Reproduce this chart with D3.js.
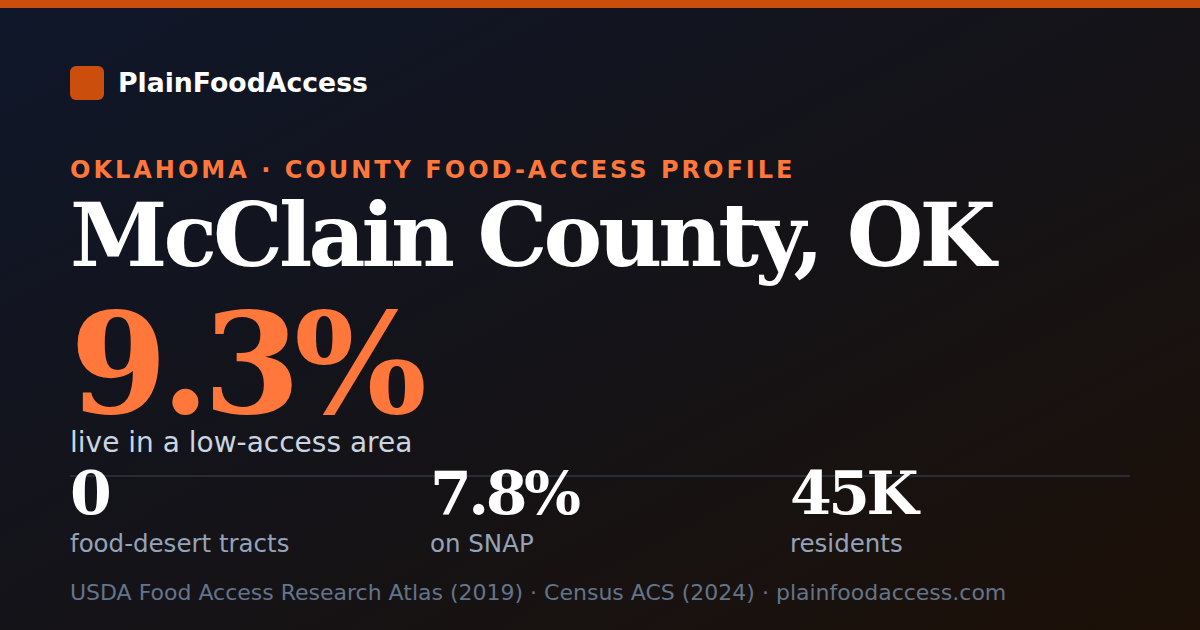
<!DOCTYPE html>
<html>
<head>
<meta charset="utf-8">
<script src="https://cdn.jsdelivr.net/npm/d3@7"></script>
<style>
  html, body { margin: 0; padding: 0; background: #111; }
  svg { display: block; }
</style>
</head>
<body>
<div id="wrapper"></div>
<script>
// 1. Data
const brand = "PlainFoodAccess"
const kicker = "OKLAHOMA · COUNTY FOOD-ACCESS PROFILE"
const county = "McClain County, OK"
const headlineValue = "9.3%"
const headlineLabel = "live in a low-access area"
const statValues = ["0", "7.8%", "45K"]
const statLabels = ["food-desert tracts", "on SNAP", "residents"]
const sources = ["USDA Food Access Research Atlas (2019)", "Census ACS (2024)", "plainfoodaccess.com"]

// 2. Dimensions
const dimensions = {
  width: 1200,
  height: 630,
  margin: { top: 0, right: 70, bottom: 0, left: 70 },
}

const sans = "'DejaVu Sans', Verdana, sans-serif"
const serif = "'DejaVu Serif', Georgia, serif"
const orange = "#ff773a"

// 3. Canvas
const wrapper = d3.select("#wrapper")
  .append("svg")
  .attr("width", dimensions.width)
  .attr("height", dimensions.height)

const defs = wrapper.append("defs")
const grad = defs.append("linearGradient")
  .attr("id", "bg")
  .attr("x1", "0%").attr("y1", "0%")
  .attr("x2", "100%").attr("y2", "100%")
grad.append("stop").attr("offset", "0%").attr("stop-color", "#0f172a")
grad.append("stop").attr("offset", "50%").attr("stop-color", "#141318")
grad.append("stop").attr("offset", "100%").attr("stop-color", "#1c1007")

wrapper.append("rect")
  .attr("width", dimensions.width)
  .attr("height", dimensions.height)
  .attr("fill", "url(#bg)")

wrapper.append("rect")
  .attr("width", dimensions.width)
  .attr("height", 8)
  .attr("fill", "#cc4e0c")

const bounds = wrapper.append("g")

// brand
bounds.append("rect")
  .attr("x", 70).attr("y", 66)
  .attr("width", 34).attr("height", 34)
  .attr("rx", 6)
  .attr("fill", "#cc4e0c")
bounds.append("text")
  .attr("x", 118).attr("y", 92)
  .attr("font-family", sans)
  .attr("font-weight", "bold")
  .attr("font-size", 26.7)
  .attr("fill", "#ffffff")
  .text(brand)

// kicker + title
bounds.append("text")
  .attr("x", 70).attr("y", 178)
  .attr("font-family", sans)
  .attr("font-weight", "bold")
  .attr("font-size", 24)
  .attr("letter-spacing", 3.0)
  .attr("fill", orange)
  .text(kicker)

bounds.append("text")
  .attr("x", 70).attr("y", 266)
  .attr("font-family", serif)
  .attr("font-weight", "bold")
  .attr("font-size", 88)
  .attr("letter-spacing", -4)
  .attr("fill", "#ffffff")
  .text(county)

// headline number
bounds.append("text")
  .attr("x", 70).attr("y", 413)
  .attr("font-family", serif)
  .attr("font-weight", "bold")
  .attr("font-size", 140)
  .attr("letter-spacing", -6.5)
  .attr("fill", orange)
  .text(headlineValue)

bounds.append("text")
  .attr("x", 70).attr("y", 452)
  .attr("font-family", sans)
  .attr("font-size", 28)
  .attr("fill", "#cbd5e1")
  .text(headlineLabel)

// divider
bounds.append("line")
  .attr("x1", 70).attr("x2", 1130)
  .attr("y1", 476).attr("y2", 476)
  .attr("stroke", "#272c37")
  .attr("stroke-width", 2)

// 4. Scales
const xScale = d3.scaleLinear()
  .domain([0, statValues.length])
  .range([dimensions.margin.left, dimensions.width - dimensions.margin.right + 20])

// 5. Stats
const stats = bounds.selectAll(".stat")
  .data(statValues.map((v, i) => ({ value: v, label: statLabels[i], i })))
  .join("g")
  .attr("class", "stat")
  .attr("transform", d => `translate(${xScale(d.i)}, 0)`)

stats.append("text")
  .attr("y", 514)
  .attr("font-family", serif)
  .attr("font-weight", "bold")
  .attr("font-size", 60)
  .attr("letter-spacing", -3.5)
  .attr("fill", "#ffffff")
  .text(d => d.value)

stats.append("text")
  .attr("y", 552)
  .attr("font-family", sans)
  .attr("font-size", 24.5)
  .attr("fill", "#94a3b8")
  .text(d => d.label)

// 6. Footer
bounds.append("text")
  .attr("x", 70).attr("y", 600)
  .attr("font-family", sans)
  .attr("font-size", 22)
  .attr("fill", "#64748b")
  .text(sources.join(" · "))
</script>
</body>
</html>
